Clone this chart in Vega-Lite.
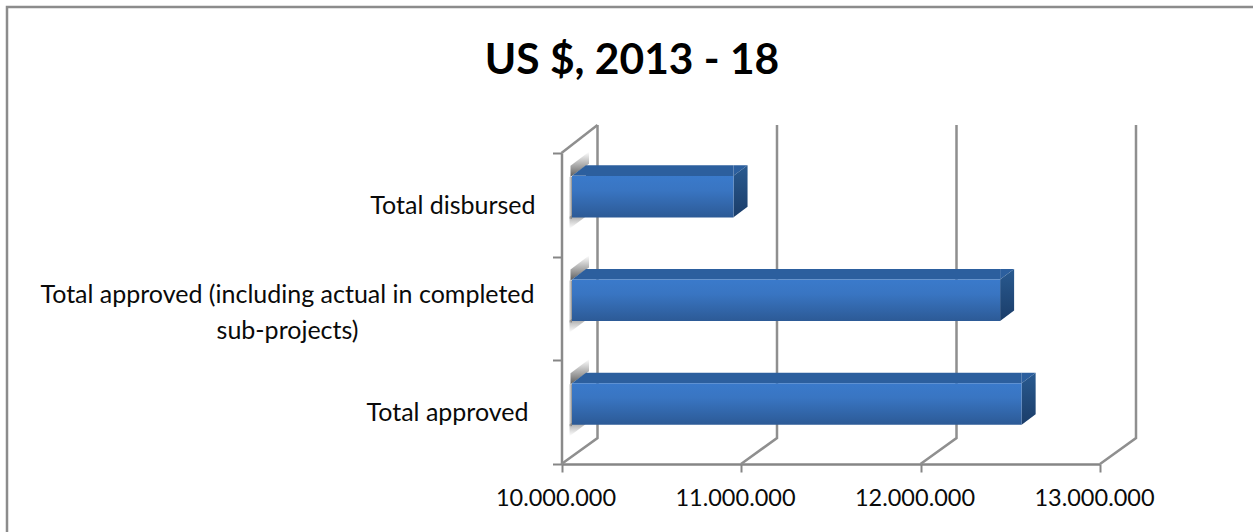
{
  "$schema": "https://vega.github.io/schema/vega-lite/v6.json",
  "width": 1250,
  "height": 530,
  "padding": {"left": 7, "top": 7, "right": 0, "bottom": 0},
  "autosize": {"type": "none"},
  "background": "white",
  "title": {
    "text": "US $, 2013 - 18",
    "font": "Lato",
    "fontSize": 42.5,
    "fontWeight": "bold",
    "color": "#000000",
    "anchor": "middle",
    "baseline": "alphabetic",
    "offset": -66,
    "dy": 43
  },
  "config": {
    "view": {"stroke": "#8c8c8c", "strokeWidth": 2.5, "fill": "white"},
    "text": {"font": "Lato", "fontSize": 25, "color": "#0a0a0a"}
  },
  "datasets": {
    "bars": [
      {"category": "Total disbursed", "usd": 10900000, "label": "Total disbursed"},
      {"category": "Total approved (including actual in completed sub-projects)", "usd": 12385000, "label": ["Total approved (including actual in completed", "sub-projects)"]},
      {"category": "Total approved", "usd": 12505000, "label": "Total approved"}
    ],
    "ticks": [
      {"usd": 10000000},
      {"usd": 11000000},
      {"usd": 12000000},
      {"usd": 13000000}
    ]
  },
  "encoding": {
    "y": {
      "field": "category",
      "type": "nominal",
      "title": null,
      "scale": {
        "type": "band",
        "domain": ["Total disbursed", "Total approved (including actual in completed sub-projects)", "Total approved"],
        "range": [146, 457],
        "paddingInner": 0,
        "paddingOuter": 0
      },
      "axis": {
        "orient": "left",
        "offset": -554.5,
        "labels": false,
        "tickBand": "extent",
        "tickSize": 9,
        "tickWidth": 2,
        "tickColor": "#868686",
        "domainColor": "#8a8a8a",
        "domainWidth": 2.5,
        "grid": false,
        "title": null
      }
    }
  },
  "layer": [
    {
      "data": {"name": "ticks"},
      "mark": {
        "type": "point",
        "filled": false,
        "size": 4,
        "opacity": 1,
        "stroke": "#8f8f8f",
        "strokeWidth": 2.5,
        "shape": "M0,155.5L36,129.5L36,-183.5"
      },
      "encoding": {
        "x": {
          "field": "usd",
          "type": "quantitative",
          "title": null,
          "scale": {"domain": [10000000, 13000000], "range": [554.5, 1093], "zero": false, "nice": false},
          "axis": {
            "orient": "bottom",
            "offset": -73,
            "values": [10000000, 11000000, 12000000, 13000000],
            "labelExpr": "replace(format(datum.value, ','), /,/g, '.')",
            "labelFont": "Lato",
            "labelFontSize": 23.5,
            "labelColor": "#0a0a0a",
            "labelOffset": -6,
            "labelPadding": 14,
            "labelFlush": false,
            "labelOverlap": false,
            "tickSize": 8,
            "tickWidth": 2,
            "tickColor": "#868686",
            "domainColor": "#868686",
            "domainWidth": 2.5,
            "grid": false,
            "title": null
          }
        },
        "y": {"datum": "Total approved (including actual in completed sub-projects)"}
      }
    },
    {
      "data": {"name": "ticks"},
      "transform": [{"filter": "datum.usd === 10000000"}],
      "mark": {
        "type": "point",
        "filled": false,
        "size": 4,
        "opacity": 1,
        "stroke": "#8f8f8f",
        "strokeWidth": 2.5,
        "shape": "M0,-155.5L36,-183.5"
      },
      "encoding": {
        "x": {"field": "usd", "type": "quantitative", "title": null},
        "y": {"datum": "Total approved (including actual in completed sub-projects)"}
      }
    },
    {
      "data": {"name": "bars"},
      "mark": {
        "type": "point",
        "filled": true,
        "size": 4,
        "opacity": 1,
        "strokeWidth": 0,
        "shape": "M9,-28L27.5,-41L27.5,-53L9,-39Z",
        "fill": {
          "x1": 0, "y1": 0, "x2": 0, "y2": 1,
          "gradient": "linear",
          "stops": [
            {"offset": 0, "color": "rgba(110,110,110,0)"},
            {"offset": 0.5, "color": "rgba(110,110,110,0.55)"},
            {"offset": 1, "color": "rgba(90,90,90,1)"}
          ]
        }
      },
      "encoding": {
        "x": {"datum": 10000000, "type": "quantitative", "title": null}
      }
    },
    {
      "data": {"name": "bars"},
      "mark": {
        "type": "point",
        "filled": true,
        "size": 4,
        "opacity": 1,
        "strokeWidth": 0,
        "shape": "M8,12L24,2L24,12L8,24Z",
        "fill": {
          "x1": 0, "y1": 0, "x2": 0, "y2": 1,
          "gradient": "linear",
          "stops": [
            {"offset": 0, "color": "rgba(90,90,90,1)"},
            {"offset": 1, "color": "rgba(130,130,130,0)"}
          ]
        }
      },
      "encoding": {
        "x": {"datum": 10000000, "type": "quantitative", "title": null}
      }
    },
    {
      "data": {"name": "bars"},
      "mark": {
        "type": "point",
        "filled": true,
        "size": 4,
        "opacity": 1,
        "strokeWidth": 0,
        "shape": "M7,-28H10.5V14H7Z",
        "fill": {
          "x1": 0, "y1": 0, "x2": 1, "y2": 0,
          "gradient": "linear",
          "stops": [
            {"offset": 0, "color": "rgba(130,130,130,0)"},
            {"offset": 1, "color": "rgba(110,110,110,0.8)"}
          ]
        }
      },
      "encoding": {
        "x": {"datum": 10000000, "type": "quantitative", "title": null}
      }
    },
    {
      "data": {"name": "bars"},
      "mark": {"type": "bar", "color": "#2c5f9e", "size": 10.6, "xOffset": 10.5, "x2Offset": 10.5, "yOffset": -34.2},
      "encoding": {
        "x": {"field": "usd", "type": "quantitative", "title": null},
        "x2": {"datum": 10078000}
      }
    },
    {
      "data": {"name": "bars"},
      "mark": {"type": "point", "filled": true, "size": 4, "opacity": 1, "strokeWidth": 0, "color": "#2c5f9e", "shape": "M10.5,-29L24.5,-39.5L24.5,-29Z"},
      "encoding": {
        "x": {"datum": 10000000, "type": "quantitative", "title": null}
      }
    },
    {
      "data": {"name": "bars"},
      "mark": {"type": "point", "filled": true, "size": 4, "opacity": 1, "strokeWidth": 0, "color": "#2c5f9e", "shape": "M10.5,-29L24.5,-39.5L10.5,-39.5Z"},
      "encoding": {
        "x": {"field": "usd", "type": "quantitative", "title": null}
      }
    },
    {
      "data": {"name": "bars"},
      "mark": {
        "type": "point",
        "filled": true,
        "size": 4,
        "opacity": 1,
        "strokeWidth": 0,
        "shape": "M10.5,-29L24.5,-39.5L24.5,2L10.5,12.5Z",
        "fill": {
          "x1": 0, "y1": 0, "x2": 0, "y2": 1,
          "gradient": "linear",
          "stops": [
            {"offset": 0, "color": "#295a90"},
            {"offset": 1, "color": "#1b3d69"}
          ]
        }
      },
      "encoding": {
        "x": {"field": "usd", "type": "quantitative", "title": null}
      }
    },
    {
      "data": {"name": "bars"},
      "mark": {
        "type": "bar",
        "size": 41.5,
        "xOffset": 10.5,
        "x2Offset": 10.5,
        "yOffset": -8.2,
        "color": {
          "x1": 0, "y1": 0, "x2": 0, "y2": 1,
          "gradient": "linear",
          "stops": [
            {"offset": 0, "color": "#3a7acb"},
            {"offset": 0.35, "color": "#3975c2"},
            {"offset": 1, "color": "#2c5a96"}
          ]
        }
      },
      "encoding": {
        "x": {"field": "usd", "type": "quantitative", "title": null},
        "x2": {"datum": 10000000}
      }
    },
    {
      "data": {"name": "bars"},
      "transform": [{"filter": "datum.category === 'Total disbursed'"}],
      "mark": {"type": "text", "align": "right", "baseline": "middle", "xOffset": -26, "yOffset": 1},
      "encoding": {
        "x": {"datum": 10000000, "type": "quantitative", "title": null},
        "text": {"field": "label"}
      }
    },
    {
      "data": {"name": "bars"},
      "transform": [{"filter": "datum.category === 'Total approved'"}],
      "mark": {"type": "text", "align": "right", "baseline": "middle", "xOffset": -33, "yOffset": 1},
      "encoding": {
        "x": {"datum": 10000000, "type": "quantitative", "title": null},
        "text": {"field": "label"}
      }
    },
    {
      "data": {"name": "bars"},
      "transform": [{"filter": "isArray(datum.label)"}],
      "mark": {"type": "text", "align": "center", "baseline": "middle", "lineHeight": 36, "xOffset": -274, "yOffset": -14},
      "encoding": {
        "x": {"datum": 10000000, "type": "quantitative", "title": null},
        "text": {"field": "label"}
      }
    }
  ]
}
